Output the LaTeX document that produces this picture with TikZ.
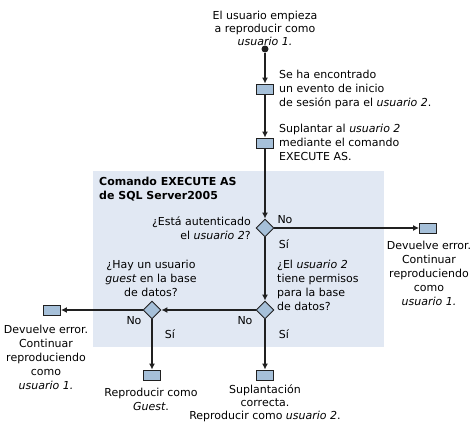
\documentclass[tikz,border=0pt]{standalone}
\usepackage{fontspec}
\setmainfont{DejaVu Sans}
\usepackage{tikz}
\usetikzlibrary{positioning}
\usetikzlibrary{arrows.meta}
\usetikzlibrary{shapes.geometric}
\definecolor{regionblue}{HTML}{E1E8F3}
\definecolor{boxblue}{HTML}{A6C0D9}
\definecolor{lineblack}{HTML}{202020}
\tikzset{my_flow/.style={->,>={Latex[length=6pt,width=6pt]},line width=1.3pt,lineblack}}
\tikzset{my_box/.style={rectangle, draw=lineblack, fill=boxblue, line width=0.9pt, minimum width=17pt, minimum height=10pt, inner sep=0pt}}
\tikzset{my_decision/.style={diamond, draw=lineblack, fill=boxblue, line width=0.9pt, minimum size=18pt, inner sep=0pt}}
\tikzset{my_start/.style={circle, fill=lineblack, minimum size=7pt, inner sep=0pt}}
\tikzset{my_text/.style={inner sep=0pt, font=\fontsize{11}{14}\selectfont}}

\begin{document}
\begin{tikzpicture}[x=1pt,y=-1pt]
    \useasboundingbox (0,0) rectangle (475,423);
    %\draw[help lines,step=10] (0,0) grid (475,423);
    \fill[regionblue] (93,171) rectangle (384,347);

    \node[my_start] (start) at (265,49) {};
    \node[my_box] (found) at (265,89) {};
    \node[my_box] (impersonate) at (265,143) {};
    \node[my_decision] (auth) at (265,228) {};
    \node[my_box] (error1) at (428,228) {};
    \node[my_decision] (perm) at (265,310) {};
    \node[my_decision] (guest) at (152,310) {};
    \node[my_box] (error2) at (52,310) {};
    \node[my_box] (asguest) at (152,375) {};
    \node[my_box] (success) at (265,375) {};

    \node[my_text, align=center, font=\fontsize{11}{13}\selectfont] (t_start) at (265,28) {El usuario empieza\\a reproducir como\\\textit{usuario 1.}};
    \node[my_text, align=left, anchor=west] (t_found) at (279,89) {Se ha encontrado\\un evento de inicio\\de sesión para el \textit{usuario 2}.};
    \node[my_text, align=left, anchor=west] (t_impersonate) at (279,142) {Suplantar al \textit{usuario 2}\\mediante el comando\\EXECUTE AS.};
    \node[my_text, align=left, anchor=north west, font=\fontsize{11}{14}\selectfont\bfseries] (t_region) at (99,177) {Comando EXECUTE AS\\de SQL Server2005};
    \node[my_text, align=right, anchor=east] (t_auth) at (251,228) {¿Está autenticado\\el \textit{usuario 2}?};
    \node[my_text, align=center] (t_error1) at (429,273) {Devuelve error.\\Continuar\\reproduciendo\\como\\\textit{usuario 1.}};
    \node[my_text, align=left, anchor=west] (t_perm) at (277,285) {¿El \textit{usuario 2}\\tiene permisos\\para la base\\de datos?};
    \node[my_text, align=center] (t_guest) at (151,278) {¿Hay un usuario\\\textit{guest} en la base\\de datos?};
    \node[my_text, align=center] (t_error2) at (46,357) {Devuelve error.\\Continuar\\reproduciendo\\como\\\textit{usuario 1.}};
    \node[my_text, align=center] (t_asguest) at (151,399) {Reproducir como\\\textit{Guest}.};
    \node[my_text, align=center, font=\fontsize{11}{13}\selectfont] (t_success) at (265,403) {Suplantación\\correcta.\\Reproducir como \textit{usuario 2}.};

    \node[my_text] (no1) at (285,220) {No};
    \node[my_text] (yes1) at (284,244) {Sí};
    \node[my_text] (no2) at (245,321) {No};
    \node[my_text] (yes2) at (284,334) {Sí};
    \node[my_text] (no3) at (134,321) {No};
    \node[my_text] (yes3) at (170,334) {Sí};

    \path[my_flow]
        (start) edge (found)
        (found) edge (impersonate)
        (impersonate) edge (auth)
        (auth) edge (error1)
        (auth) edge (perm)
        (perm) edge (guest)
        (perm) edge (success)
        (guest) edge (error2)
        (guest) edge (asguest)
    ;
\end{tikzpicture}
\end{document}
